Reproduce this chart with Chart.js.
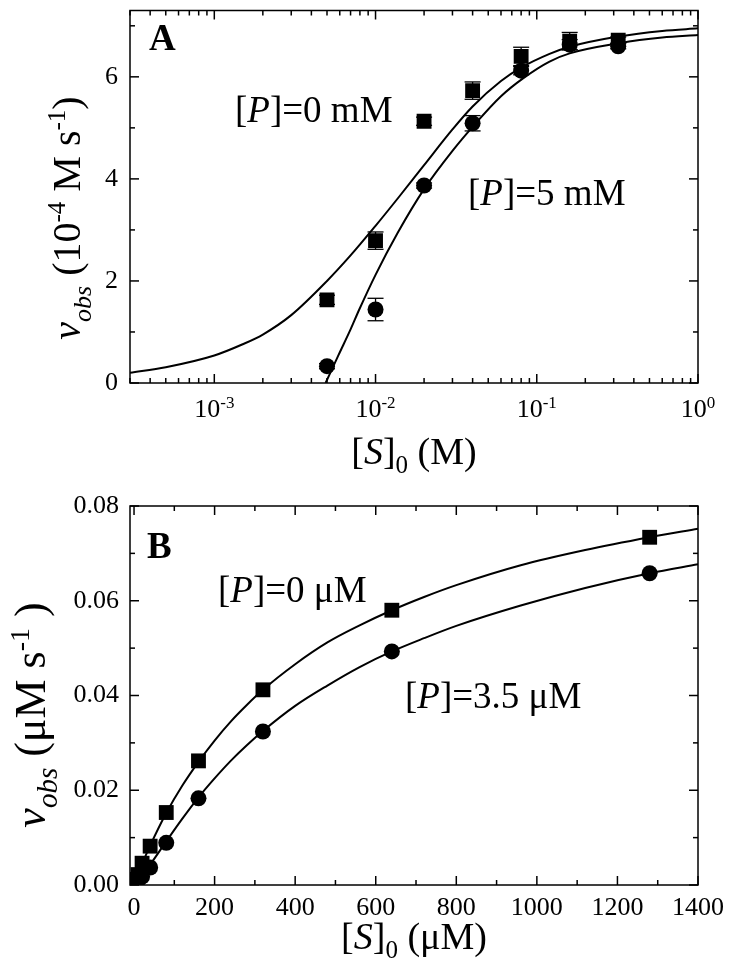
<!DOCTYPE html>
<html>
<head>
<meta charset="utf-8">
<script src="https://cdn.jsdelivr.net/npm/chart.js@4.4.1/dist/chart.umd.min.js"></script>
<style>
  body { margin: 0; background: #fff; }
  #wrap { position: relative; width: 730px; height: 975px; background: #fff; }
  canvas { position: absolute; left: 0; }
</style>
</head>
<body>
<div id="wrap">
  <canvas id="graficoA" width="730" height="480" style="top:0px"></canvas>
  <canvas id="graficoB" width="730" height="495" style="top:480px"></canvas>
</div>
<script>
// Painel A - [S]0 em M (escala log)
const sA = [0.005, 0.01, 0.02, 0.04, 0.08, 0.16, 0.32];
const vA0 = [1.63, 2.79, 5.13, 5.73, 6.40, 6.70, 6.72];   // [P]=0 mM (quadrados)
const errA0 = [0.09, 0.17, 0.08, 0.17, 0.18, 0.17, 0.06];
const vA5 = [0.33, 1.44, 3.87, 5.09, 6.12, 6.63, 6.60];   // [P]=5 mM (circulos)
const errA5 = [0.05, 0.22, 0.05, 0.15, 0.08, 0.10, 0.05];

// curvas ajustadas
const curvaA0x = [0.0003, 0.0005, 0.001, 0.0015, 0.002, 0.003, 0.005, 0.007, 0.01, 0.014, 0.02, 0.03, 0.04, 0.06, 0.08, 0.12, 0.16, 0.32, 0.6, 1.0];
const curvaA0y = [0.20, 0.31, 0.54, 0.76, 0.95, 1.33, 2.00, 2.50, 3.08, 3.65, 4.27, 4.97, 5.42, 5.92, 6.18, 6.45, 6.59, 6.79, 6.90, 6.95];
const curvaA5x = [0.0049, 0.0059, 0.007, 0.0079, 0.01, 0.0137, 0.02, 0.03, 0.041, 0.06, 0.083, 0.12, 0.16, 0.325, 0.6, 1.0];
const curvaA5y = [0.0, 0.55, 1.05, 1.43, 2.12, 2.94, 3.80, 4.55, 5.06, 5.62, 5.98, 6.30, 6.46, 6.66, 6.77, 6.82];

const ticksAx = [0.001, 0.01, 0.1, 1];
const ticksAy = [0, 2, 4, 6];
const minorAy = [1, 3, 5, 7];

// Painel B - [S]0 em uM (escala linear)
const sB = [5, 10, 20, 40, 80, 160, 320, 640, 1280];
const vB0 = [0.0012, 0.0022, 0.0046, 0.0082, 0.0153, 0.0262, 0.0412, 0.0580, 0.0734];    // [P]=0 uM
const vB35 = [0.0006, 0.0010, 0.0018, 0.0037, 0.0089, 0.0183, 0.0324, 0.0493, 0.0658];   // [P]=3.5 uM

const curvaBx = [0, 20, 40, 80, 120, 160, 200, 240, 280, 320, 400, 480, 560, 640, 720, 800, 960, 1120, 1280, 1400];
const curvaB0y = [0, 0.0044, 0.0083, 0.0152, 0.0210, 0.0260, 0.0305, 0.0345, 0.0380, 0.0412, 0.0466, 0.0512, 0.0548, 0.0580, 0.0608, 0.0633, 0.0675, 0.0707, 0.0734, 0.0752];
const curvaB35y = [0, 0.0020, 0.0043, 0.0092, 0.0140, 0.0185, 0.0225, 0.0262, 0.0295, 0.0325, 0.0378, 0.0421, 0.0460, 0.0493, 0.0521, 0.0547, 0.0590, 0.0627, 0.0658, 0.0677];

const ticksBx = [0, 200, 400, 600, 800, 1000, 1200, 1400];
const minorBx = [100, 300, 500, 700, 900, 1100, 1300];
const ticksBy = [0, 0.02, 0.04, 0.06, 0.08];
const minorBy = [0.01, 0.03, 0.05, 0.07];

const FONTE = '"Liberation Serif", "Times New Roman", serif';

// junta x e y em pontos
function pts(xs, ys) {
  return xs.map((x, i) => ({ x: x, y: ys[i] }));
}

// minor ticks da escala log (2..9 de cada decada)
const minorAx = [];
for (let e = -4; e <= -1; e++) {
  for (let m = 2; m <= 9; m++) {
    const v = m * Math.pow(10, e);
    if (v >= 0.0003 && v <= 1) minorAx.push(v);
  }
}

// texto com partes de estilos diferentes: [texto, estilo, tamanho, deslocamento y]
function textoRico(ctx, partes, x, y, centrado) {
  let w = 0;
  partes.forEach(p => {
    ctx.font = p[1] + ' ' + p[2] + 'px ' + FONTE;
    w += ctx.measureText(p[0]).width;
  });
  let cx = centrado ? x - w / 2 : x;
  partes.forEach(p => {
    ctx.font = p[1] + ' ' + p[2] + 'px ' + FONTE;
    ctx.fillText(p[0], cx, y + p[3]);
    cx += ctx.measureText(p[0]).width;
  });
}

function linha(ctx, x1, y1, x2, y2) {
  ctx.beginPath();
  ctx.moveTo(x1, y1);
  ctx.lineTo(x2, y2);
  ctx.stroke();
}

// moldura, ticks para dentro, barras de erro e textos
function pluginMoldura(cfg) {
  return {
    id: 'moldura',
    afterDatasetsDraw(chart) {
      const ctx = chart.ctx;
      const a = chart.chartArea;
      const sx = chart.scales.x, sy = chart.scales.y;
      ctx.save();
      ctx.strokeStyle = '#000';
      ctx.fillStyle = '#000';

      // barras de erro
      ctx.lineWidth = 1.3;
      (cfg.erros || []).forEach(e => {
        e.x.forEach((xv, i) => {
          const px = sx.getPixelForValue(xv);
          const p1 = sy.getPixelForValue(e.y[i] - e.err[i]);
          const p2 = sy.getPixelForValue(e.y[i] + e.err[i]);
          linha(ctx, px, p1, px, p2);
          linha(ctx, px - 8, p1, px + 8, p1);
          linha(ctx, px - 8, p2, px + 8, p2);
        });
      });

      ctx.lineWidth = 1.5;
      ctx.strokeRect(a.left, a.top, a.right - a.left, a.bottom - a.top);

      const marcaX = (vals, len) => vals.forEach(v => {
        const p = sx.getPixelForValue(v);
        if (p < a.left - 0.5 || p > a.right + 0.5) return;
        linha(ctx, p, a.bottom, p, a.bottom - len);
        linha(ctx, p, a.top, p, a.top + len);
      });
      const marcaY = (vals, len) => vals.forEach(v => {
        const p = sy.getPixelForValue(v);
        linha(ctx, a.left, p, a.left + len, p);
        linha(ctx, a.right, p, a.right - len, p);
      });
      marcaX(cfg.majX, 9);
      marcaX(cfg.minX, 5);
      marcaY(cfg.majY, 9);
      marcaY(cfg.minY, 5);

      ctx.textBaseline = 'alphabetic';

      // rotulos 10^n do eixo log
      if (cfg.rotulosLog) {
        cfg.majX.forEach(v => {
          const ex = Math.round(Math.log10(v));
          textoRico(ctx, [['10', 'normal', 26, 0], [String(ex), 'normal', 17, -9]], sx.getPixelForValue(v), cfg.rotulosLog, true);
        });
      }

      // titulos dos eixos
      textoRico(ctx, cfg.tituloX, (a.left + a.right) / 2, cfg.tituloXy, true);
      ctx.save();
      ctx.translate(cfg.tituloYx, cfg.tituloYc);
      ctx.rotate(-Math.PI / 2);
      textoRico(ctx, cfg.tituloY, 0, 0, true);
      ctx.restore();

      // letra do painel e anotacoes
      ctx.font = 'bold 37px ' + FONTE;
      ctx.fillText(cfg.letra[0], cfg.letra[1], cfg.letra[2]);
      cfg.anotacoes.forEach(t => textoRico(ctx, t[0], t[1], t[2], false));
      ctx.restore();
    }
  };
}

function conjuntos(cx1, cy1, cx2, cy2, xs, y1, y2) {
  const curva = { showLine: true, pointRadius: 0, borderColor: '#000', borderWidth: 2, cubicInterpolationMode: 'monotone' };
  return [
    Object.assign({ data: pts(cx1, cy1) }, curva),
    Object.assign({ data: pts(cx2, cy2) }, curva),
    { data: pts(xs, y1), showLine: false, pointStyle: 'rect', pointRadius: 10.5, pointBorderWidth: 0, backgroundColor: '#000', borderColor: '#000' },
    { data: pts(xs, y2), showLine: false, pointStyle: 'circle', pointRadius: 8, pointBorderWidth: 0, backgroundColor: '#000', borderColor: '#000' }
  ];
}

const semGrade = { display: false, drawTicks: false };

// Grafico A
new Chart(document.getElementById('graficoA'), {
  type: 'scatter',
  data: { datasets: conjuntos(curvaA0x, curvaA0y, curvaA5x, curvaA5y, sA, vA0, vA5) },
  options: {
    responsive: false,
    animation: false,
    events: [],
    layout: { padding: { left: 0, right: 32, top: 4, bottom: 0 } },
    plugins: { legend: { display: false }, tooltip: { enabled: false } },
    scales: {
      x: {
        type: 'logarithmic', min: 0.0003, max: 1,
        grid: semGrade, border: { display: false },
        ticks: { display: false },
        afterFit(s) { s.height = 97; s.paddingLeft = 0; s.paddingRight = 0; }
      },
      y: {
        min: 0, max: 7.3,
        grid: semGrade, border: { display: false },
        afterBuildTicks(s) { s.ticks = ticksAy.map(v => ({ value: v })); },
        ticks: { color: '#000', padding: 12, font: { family: FONTE, size: 26 } },
        afterFit(s) { s.width = 130; s.paddingTop = 0; s.paddingBottom = 0; }
      }
    }
  },
  plugins: [pluginMoldura({
    majX: ticksAx, minX: minorAx, majY: ticksAy, minY: minorAy,
    erros: [{ x: sA, y: vA0, err: errA0 }, { x: sA, y: vA5, err: errA5 }],
    rotulosLog: 417,
    tituloX: [['[', 'normal', 38, 0], ['S', 'italic', 38, 0], [']', 'normal', 38, 0], ['0', 'normal', 25, 9], [' (M)', 'normal', 38, 0]],
    tituloXy: 464,
    tituloY: [['v', 'italic', 40, 0], ['obs', 'italic', 26, 11], [' (10', 'normal', 40, 0], ['-4', 'normal', 25, -15], [' M s', 'normal', 40, 0], ['-1', 'normal', 25, -15], [')', 'normal', 40, 0]],
    tituloYx: 80, tituloYc: 218,
    letra: ['A', 149, 50],
    anotacoes: [
      [[['[', 'normal', 37, 0], ['P', 'italic', 37, 0], [']=0 mM', 'normal', 37, 0]], 235, 122],
      [[['[', 'normal', 37, 0], ['P', 'italic', 37, 0], [']=5 mM', 'normal', 37, 0]], 468, 205]
    ]
  })]
});

// Grafico B
new Chart(document.getElementById('graficoB'), {
  type: 'scatter',
  data: { datasets: conjuntos(curvaBx, curvaB0y, curvaBx, curvaB35y, sB, vB0, vB35) },
  options: {
    responsive: false,
    animation: false,
    events: [],
    layout: { padding: { left: 0, right: 32, top: 26, bottom: 0 } },
    plugins: { legend: { display: false }, tooltip: { enabled: false } },
    scales: {
      x: {
        min: -10, max: 1400,
        grid: semGrade, border: { display: false },
        afterBuildTicks(s) { s.ticks = ticksBx.map(v => ({ value: v })); },
        ticks: { color: '#000', padding: 8, maxRotation: 0, font: { family: FONTE, size: 26 }, callback: v => String(v) },
        afterFit(s) { s.height = 90; s.paddingLeft = 0; s.paddingRight = 0; }
      },
      y: {
        min: 0, max: 0.08,
        grid: semGrade, border: { display: false },
        afterBuildTicks(s) { s.ticks = ticksBy.map(v => ({ value: v })); },
        ticks: { color: '#000', padding: 11, font: { family: FONTE, size: 26 }, callback: v => v.toFixed(2) },
        afterFit(s) { s.width = 130; s.paddingTop = 0; s.paddingBottom = 0; }
      }
    }
  },
  plugins: [pluginMoldura({
    majX: ticksBx, minX: minorBx, majY: ticksBy, minY: minorBy,
    erros: [],
    rotulosLog: null,
    tituloX: [['[', 'normal', 38, 0], ['S', 'italic', 38, 0], [']', 'normal', 38, 0], ['0', 'normal', 25, 9], [' (\u03bcM)', 'normal', 38, 0]],
    tituloXy: 469,
    tituloY: [['v', 'italic', 44, 0], ['obs', 'italic', 29, 12], [' (\u03bcM s', 'normal', 44, 0], ['-1', 'normal', 28, -16], [' )', 'normal', 44, 0]],
    tituloYx: 45, tituloYc: 235,
    letra: ['B', 147, 78],
    anotacoes: [
      [[['[', 'normal', 37, 0], ['P', 'italic', 37, 0], [']=0 \u03bcM', 'normal', 37, 0]], 218, 122],
      [[['[', 'normal', 37, 0], ['P', 'italic', 37, 0], [']=3.5 \u03bcM', 'normal', 37, 0]], 405, 228]
    ]
  })]
});
</script>
</body>
</html>
